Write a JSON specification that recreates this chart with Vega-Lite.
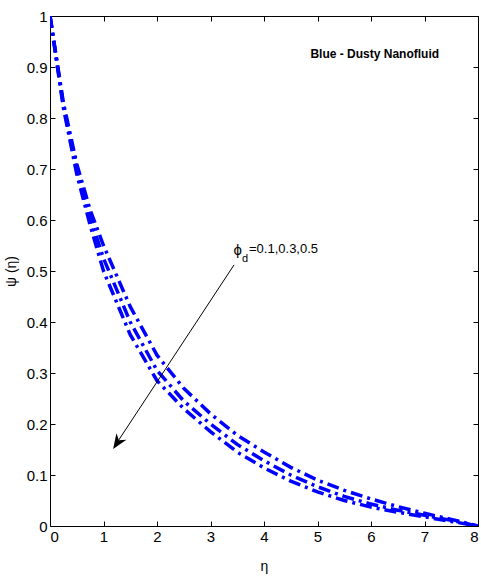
{
  "$schema": "https://vega.github.io/schema/vega-lite/v6.json",
  "width": 428,
  "height": 510,
  "autosize": "none",
  "padding": {"left": 50, "top": 16, "right": 3, "bottom": 55},
  "background": "white",
  "config": {
    "view": {"stroke": "black", "strokeWidth": 1},
    "axis": {
      "grid": false,
      "domain": false,
      "tickColor": "black",
      "tickSize": -5,
      "labelColor": "black",
      "labelFont": "Liberation Sans",
      "labelFontSize": 15,
      "labelPadding": 8,
      "titleFont": "Liberation Sans",
      "titleFontSize": 14,
      "titleFontWeight": "normal",
      "titleColor": "black"
    }
  },
  "data": {
    "values": [
      {"phi": 0.1, "eta": 0, "psi": 1},
      {"phi": 0.1, "eta": 0.25, "psi": 0.83},
      {"phi": 0.1, "eta": 0.5, "psi": 0.71},
      {"phi": 0.1, "eta": 0.75, "psi": 0.62},
      {"phi": 0.1, "eta": 1, "psi": 0.55},
      {"phi": 0.1, "eta": 1.5, "psi": 0.43},
      {"phi": 0.1, "eta": 2, "psi": 0.335},
      {"phi": 0.1, "eta": 2.5, "psi": 0.27},
      {"phi": 0.1, "eta": 3, "psi": 0.22},
      {"phi": 0.1, "eta": 3.5, "psi": 0.178},
      {"phi": 0.1, "eta": 4, "psi": 0.145},
      {"phi": 0.1, "eta": 4.5, "psi": 0.115},
      {"phi": 0.1, "eta": 5, "psi": 0.09},
      {"phi": 0.1, "eta": 5.5, "psi": 0.07},
      {"phi": 0.1, "eta": 6, "psi": 0.053},
      {"phi": 0.1, "eta": 6.5, "psi": 0.038},
      {"phi": 0.1, "eta": 7, "psi": 0.025},
      {"phi": 0.1, "eta": 7.5, "psi": 0.013},
      {"phi": 0.1, "eta": 8, "psi": 0},
      {"phi": 0.3, "eta": 0, "psi": 1},
      {"phi": 0.3, "eta": 0.25, "psi": 0.825},
      {"phi": 0.3, "eta": 0.5, "psi": 0.7},
      {"phi": 0.3, "eta": 0.75, "psi": 0.605},
      {"phi": 0.3, "eta": 1, "psi": 0.525},
      {"phi": 0.3, "eta": 1.5, "psi": 0.4},
      {"phi": 0.3, "eta": 2, "psi": 0.305},
      {"phi": 0.3, "eta": 2.5, "psi": 0.245},
      {"phi": 0.3, "eta": 3, "psi": 0.2},
      {"phi": 0.3, "eta": 3.5, "psi": 0.16},
      {"phi": 0.3, "eta": 4, "psi": 0.128},
      {"phi": 0.3, "eta": 4.5, "psi": 0.1},
      {"phi": 0.3, "eta": 5, "psi": 0.077},
      {"phi": 0.3, "eta": 5.5, "psi": 0.058},
      {"phi": 0.3, "eta": 6, "psi": 0.043},
      {"phi": 0.3, "eta": 6.5, "psi": 0.031},
      {"phi": 0.3, "eta": 7, "psi": 0.021},
      {"phi": 0.3, "eta": 7.5, "psi": 0.011},
      {"phi": 0.3, "eta": 8, "psi": 0},
      {"phi": 0.5, "eta": 0, "psi": 1},
      {"phi": 0.5, "eta": 0.25, "psi": 0.82},
      {"phi": 0.5, "eta": 0.5, "psi": 0.69},
      {"phi": 0.5, "eta": 0.75, "psi": 0.59},
      {"phi": 0.5, "eta": 1, "psi": 0.5},
      {"phi": 0.5, "eta": 1.5, "psi": 0.375},
      {"phi": 0.5, "eta": 2, "psi": 0.285},
      {"phi": 0.5, "eta": 2.5, "psi": 0.23},
      {"phi": 0.5, "eta": 3, "psi": 0.185},
      {"phi": 0.5, "eta": 3.5, "psi": 0.145},
      {"phi": 0.5, "eta": 4, "psi": 0.114},
      {"phi": 0.5, "eta": 4.5, "psi": 0.088},
      {"phi": 0.5, "eta": 5, "psi": 0.067},
      {"phi": 0.5, "eta": 5.5, "psi": 0.05},
      {"phi": 0.5, "eta": 6, "psi": 0.037},
      {"phi": 0.5, "eta": 6.5, "psi": 0.027},
      {"phi": 0.5, "eta": 7, "psi": 0.018},
      {"phi": 0.5, "eta": 7.5, "psi": 0.009},
      {"phi": 0.5, "eta": 8, "psi": 0}
    ]
  },
  "resolve": {"axis": {"x": "independent", "y": "independent"}},
  "layer": [
    {
      "mark": {"type": "line", "color": "#0000ff", "strokeWidth": 3.5, "strokeDash": [12, 5, 3, 5], "clip": true},
      "encoding": {
        "x": {"field": "eta", "type": "quantitative", "scale": {"domain": [0, 8], "nice": false},
              "axis": {"orient": "bottom", "values": [0, 1, 2, 3, 4, 5, 6, 7, 8], "title": "η", "titlePadding": 15}},
        "y": {"field": "psi", "type": "quantitative", "scale": {"domain": [0, 1], "nice": false},
              "axis": {"orient": "left", "values": [0, 0.1, 0.2, 0.3, 0.4, 0.5, 0.6, 0.7, 0.8, 0.9, 1], "format": "~g", "title": "ψ (η)", "titlePadding": 8}},
        "detail": {"field": "phi", "type": "nominal"}
      }
    },
    {
      "mark": {"type": "point", "opacity": 0},
      "encoding": {
        "x": {"field": "eta", "type": "quantitative",
              "axis": {"orient": "top", "values": [0, 1, 2, 3, 4, 5, 6, 7, 8], "labels": false, "title": null}},
        "y": {"field": "psi", "type": "quantitative",
              "axis": {"orient": "right", "values": [0, 0.1, 0.2, 0.3, 0.4, 0.5, 0.6, 0.7, 0.8, 0.9, 1], "labels": false, "title": null}}
      }
    },
    {
      "data": {"values": [{}]},
      "mark": {"type": "rule", "color": "black", "strokeWidth": 1},
      "encoding": {
        "x": {"datum": 3.44, "type": "quantitative", "axis": null},
        "y": {"datum": 0.512, "type": "quantitative", "axis": null},
        "x2": {"datum": 1.2},
        "y2": {"datum": 0.155}
      }
    },
    {
      "data": {"values": [{}]},
      "mark": {"type": "point", "shape": "M0,0 L-0.4,1 L0,0.7 L0.4,1 Z", "filled": true, "color": "black", "opacity": 1, "size": 900, "angle": 213.6, "strokeWidth": 0},
      "encoding": {
        "x": {"datum": 1.18, "type": "quantitative", "axis": null},
        "y": {"datum": 0.151, "type": "quantitative", "axis": null}
      }
    },
    {
      "data": {"values": [{}]},
      "mark": {"type": "text", "text": "ϕ", "align": "left", "baseline": "alphabetic", "font": "Liberation Sans", "fontSize": 15, "color": "black"},
      "encoding": {
        "x": {"datum": 3.43, "type": "quantitative", "axis": null},
        "y": {"datum": 0.532, "type": "quantitative", "axis": null}
      }
    },
    {
      "data": {"values": [{}]},
      "mark": {"type": "text", "text": "d", "align": "left", "baseline": "alphabetic", "font": "Liberation Sans", "fontSize": 11, "color": "black"},
      "encoding": {
        "x": {"datum": 3.59, "type": "quantitative", "axis": null},
        "y": {"datum": 0.517, "type": "quantitative", "axis": null}
      }
    },
    {
      "data": {"values": [{}]},
      "mark": {"type": "text", "text": "=0.1,0.3,0.5", "align": "left", "baseline": "alphabetic", "font": "Liberation Sans", "fontSize": 13, "color": "black"},
      "encoding": {
        "x": {"datum": 3.72, "type": "quantitative", "axis": null},
        "y": {"datum": 0.536, "type": "quantitative", "axis": null}
      }
    },
    {
      "data": {"values": [{}]},
      "mark": {"type": "text", "text": "Blue - Dusty Nanofluid", "align": "center", "baseline": "alphabetic", "font": "Liberation Sans", "fontSize": 12, "fontWeight": "bold", "color": "black"},
      "encoding": {
        "x": {"datum": 6.07, "type": "quantitative", "axis": null},
        "y": {"datum": 0.918, "type": "quantitative", "axis": null}
      }
    }
  ]
}
